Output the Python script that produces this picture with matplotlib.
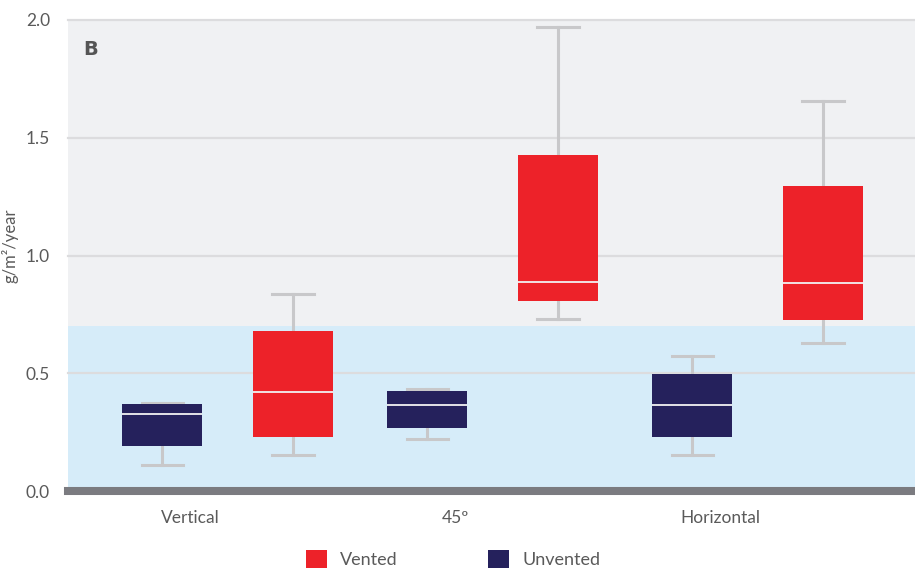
import matplotlib
matplotlib.use("Agg")
import matplotlib.pyplot as plt
from matplotlib.patches import Patch

# ---- data ----
categories = ["Vertical", "45º", "Horizontal"]
series = ["Vented", "Unvented"]

# per category: (whisker_low, q1, median, q3, whisker_high)
unvented_wlo = [0.109, 0.219, 0.154]
unvented_q1 = [0.192, 0.268, 0.230]
unvented_med = [0.325, 0.364, 0.364]
unvented_q3 = [0.369, 0.424, 0.496]
unvented_whi = [0.374, 0.433, 0.572]

vented_wlo = [0.154, 0.730, 0.627]
vented_q1 = [0.230, 0.806, 0.726]
vented_med = [0.421, 0.887, 0.883]
vented_q3 = [0.678, 1.428, 1.297]
vented_whi = [0.835, 1.972, 1.657]

threshold = 0.7
yticks = [0.0, 0.5, 1.0, 1.5, 2.0]
panel_label = "B"
ylabel = "g/m²/year"

# ---- style ----
plt.rcParams["font.family"] = ["Lato", "DejaVu Sans"]

RED = "#ED2229"
NAVY = "#25215C"
BAND = "#D6ECF9"
BG = "#F0F1F3"
WHISK = "#C8C8CA"
GRID = "#DCDCDE"
AXBAR = "#7B7B80"
TXT = "#5A5A5A"

fig = plt.figure(figsize=(9.15, 5.70), dpi=100)
ax = fig.add_axes([68 / 915, (570 - 491) / 570, 1 - 68 / 915, (491 - 20) / 570])
ax.set_facecolor(BG)

off = 0.247
bw = 0.302
capw = 0.155


def stats(lo, q1, med, q3, hi):
    return [dict(whislo=a, q1=b, med=c, q3=d, whishi=e, fliers=[])
            for a, b, c, d, e in zip(lo, q1, med, q3, hi)]


pos = list(range(len(categories)))

ax.axhspan(0, threshold, color=BAND, zorder=0.5, lw=0)
for y in yticks[1:]:
    ax.axhline(y, color=GRID, lw=1.6, zorder=1, clip_on=False)

for st, shift, col in [
    (stats(unvented_wlo, unvented_q1, unvented_med, unvented_q3, unvented_whi), -off, NAVY),
    (stats(vented_wlo, vented_q1, vented_med, vented_q3, vented_whi), off, RED),
]:
    art = ax.bxp(st, positions=[p + shift for p in pos], widths=bw, capwidths=capw,
                 patch_artist=True, showfliers=False, manage_ticks=False,
                 boxprops=dict(facecolor=col, edgecolor="none", linewidth=0),
                 whiskerprops=dict(color=WHISK, linewidth=2.2),
                 capprops=dict(color=WHISK, linewidth=2.2),
                 medianprops=dict(color="#F2F2F2", linewidth=1.3),
                 zorder=3)
    for a in art["whiskers"] + art["caps"]:
        a.set_zorder(2)
    for m in art["medians"]:
        m.set_zorder(4)

ax.axhline(0, color=AXBAR, lw=5.8, zorder=5, clip_on=False)

ax.set_xlim(-0.602, 2.594)
ax.set_ylim(0, 2.0)
ax.set_yticks(yticks)
ax.set_yticklabels([f"{v:.1f}" for v in yticks])
ax.set_xticks([p - 0.14 for p in pos])
ax.set_xticklabels(categories)
ax.tick_params(axis="both", length=0, labelsize=12.5, colors=TXT)
ax.tick_params(axis="y", pad=13)
ax.tick_params(axis="x", pad=14)
for s in ax.spines.values():
    s.set_visible(False)

ax.set_ylabel(ylabel, fontsize=12, color=TXT)
ax.yaxis.set_label_coords(-0.059, 0.52)
ax.text(0.018, 0.938, panel_label, transform=ax.transAxes, fontsize=14,
        fontweight="bold", color="#555555", ha="left", va="center",
        family=["DejaVu Sans"])

handles = [Patch(facecolor=RED, edgecolor="none"), Patch(facecolor=NAVY, edgecolor="none")]
fig.legend(handles, series, loc="center left", bbox_to_anchor=(306 / 915, 1 - 559 / 570),
           ncol=2, frameon=False, fontsize=13, labelcolor=TXT, borderpad=0, borderaxespad=0,
           handlelength=1.15, handleheight=1.15, handletextpad=0.75, columnspacing=5.0)

fig.savefig("out.png", dpi=100, facecolor="white")
